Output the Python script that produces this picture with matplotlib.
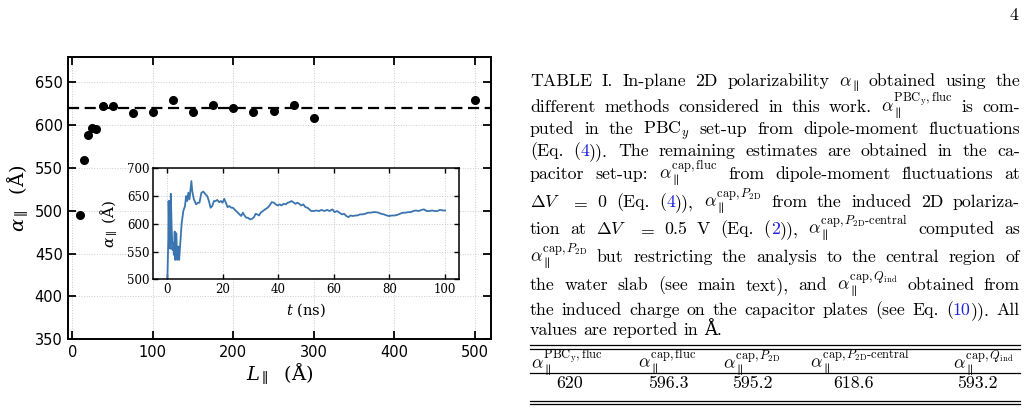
import numpy as np
import matplotlib.pyplot as plt
from matplotlib.lines import Line2D

# main panel: polarizability vs box size
L_par = [10, 15, 20, 25, 30, 37.5, 50, 75, 100, 125, 150, 175, 200, 225, 250, 275, 300, 500]
alpha_L = [495, 559, 588, 597, 596, 622, 622, 614, 616, 629, 616, 624, 620, 615, 617, 624, 608, 629]
alpha_ref = 620

# inset: running estimate vs simulation time
t_ns = [0.1, 0.5, 0.6, 0.8, 1.0, 1.2, 1.4, 1.7, 2.0, 2.3, 2.5, 2.8, 3.0, 3.4, 3.7, 4.1, 4.4,
        4.9, 5.3, 5.9, 6.5, 6.9, 7.3, 7.7, 8.1, 8.4, 8.8, 9.1, 9.7, 10.5, 11.1, 11.7, 12.4,
        13.1, 13.9, 14.5, 15.1, 15.7, 16.3, 16.9, 17.5, 18.1, 18.8, 19.4, 20.0, 20.6, 21.2,
        21.8, 22.4, 23.1, 23.7, 24.3, 24.9, 25.5, 26.1, 26.7, 27.3, 27.9, 28.5, 29.1, 29.9,
        30.6, 31.3, 31.9, 32.5, 33.1, 33.7, 34.5, 35.3, 36.2, 36.9, 37.7, 38.5, 39.1, 39.8,
        40.5, 41.2, 41.9, 42.7, 43.4, 44.1, 44.8, 45.4, 46.2, 46.9, 47.6, 48.3, 49.0, 49.8,
        50.5, 51.2, 51.9, 52.8, 53.7, 54.7, 55.6, 56.6, 57.6, 58.5, 59.5, 60.3, 61.2, 62.0,
        62.9, 63.7, 64.5, 65.3, 66.0, 66.8, 67.7, 68.5, 69.4, 70.3, 71.3, 72.2, 73.2, 74.2,
        75.1, 76.1, 77.0, 78.0, 79.0, 79.9, 80.9, 81.9, 82.8, 83.8, 84.7, 85.7, 86.7, 87.6,
        88.6, 89.5, 90.5, 91.5, 92.4, 93.4, 94.4, 95.3, 96.3, 97.2, 98.2, 99.2, 100.0]
alpha_t = [485, 571, 641, 595, 641, 555, 654, 595, 553, 565, 544, 586, 535, 583, 535, 559, 535,
           571, 601, 623, 632, 650, 641, 656, 644, 659, 677, 659, 644, 635, 638, 638, 656,
           658, 653, 650, 641, 629, 632, 641, 641, 643, 639, 641, 638, 645, 638,
           630, 632, 629, 629, 626, 623, 620, 617, 614, 620, 615, 611, 611, 608,
           609, 612, 618, 617, 615, 620, 623, 626, 629, 633, 639, 638, 635, 633,
           635, 633, 636, 635, 638, 639, 641, 639, 636, 638, 636, 633, 635, 630,
           629, 626, 623, 623, 624, 623, 625, 623, 625, 623, 626, 621, 623, 620,
           617, 618, 614, 612, 615, 614, 615, 615, 617, 617, 618, 620, 620, 621,
           621, 620, 618, 617, 615, 614, 615, 615, 616, 618, 620, 620, 621, 621,
           623, 624, 623, 625, 626, 623, 623, 624, 623, 623, 625, 624, 624]

# table
col_heads = [r'$\alpha_\parallel^{\mathrm{PBC_y,fluc}}$', r'$\alpha_\parallel^{\mathrm{cap,fluc}}$',
             r'$\alpha_\parallel^{\mathrm{cap},P_\mathrm{2D}}$',
             r'$\alpha_\parallel^{\mathrm{cap},P_\mathrm{2D}\text{-central}}$',
             r'$\alpha_\parallel^{\mathrm{cap},Q_\mathrm{ind}}$']
col_vals = ['620', '596.3', '595.2', '618.6', '593.2']

W, H = 1027, 418
fig = plt.figure(figsize=(W / 100, H / 100), dpi=100)

def fx(x):
    return x / W

def fy(y):
    return 1 - y / H

ax = fig.add_axes([fx(68.3), fy(339.3), fx(491 - 68.3), (339.3 - 56.7) / H])
ax.plot(L_par, alpha_L, 'o', color='black', ms=5.5, zorder=3)
ax.axhline(alpha_ref, color='black', lw=1.6, dashes=(5, 2.5))
ax.set_xlim(-5, 520)
ax.set_ylim(350, 680)
ax.set_xticks([0, 100, 200, 300, 400, 500])
ax.set_yticks([350, 400, 450, 500, 550, 600, 650])
ax.grid(True, ls=':', color='0.8', lw=0.7)
ax.tick_params(direction='in', top=True, right=True, length=5.5, width=1.3,
               labelsize=10.5, pad=4)
for lb in ax.get_xticklabels() + ax.get_yticklabels():
    lb.set_family('DejaVu Sans')
for s in ax.spines.values():
    s.set_linewidth(1.4)
ax.set_xlabel(r'$L_\parallel$  (Å)', fontsize=14, family='DejaVu Serif', math_fontfamily='dejavuserif')
ax.set_ylabel(r'$\alpha_\parallel$  (Å)', fontsize=14, family='DejaVu Serif', math_fontfamily='dejavuserif')
ax.xaxis.set_label_coords(0.5, -0.077)
ax.yaxis.set_label_coords(-0.09, 0.5)

ins = fig.add_axes([fx(153), fy(279.3), fx(459 - 153), 111 / H])
ins.plot(t_ns, alpha_t, color='#3a75b0', lw=1.3)
ins.set_xlim(-5, 105)
ins.set_ylim(500, 700)
ins.set_xticks([0, 20, 40, 60, 80, 100])
ins.set_yticks([500, 550, 600, 650, 700])
ins.grid(True, ls=':', color='0.8', lw=0.7)
ins.tick_params(direction='in', top=True, right=True, length=3.5, width=1.0,
                labelsize=8.5, pad=2.5)
for lb in ins.get_xticklabels() + ins.get_yticklabels():
    lb.set_family('DejaVu Serif')
for s in ins.spines.values():
    s.set_linewidth(1.1)
ins.set_xlabel(r'$t$ (ns)', fontsize=10.5, family='DejaVu Serif', math_fontfamily='dejavuserif')
ins.set_ylabel(r'$\alpha_\parallel$ (Å)', fontsize=11, family='DejaVu Serif', math_fontfamily='dejavuserif')
ins.xaxis.set_label_coords(0.5, -0.2)
ins.yaxis.set_label_coords(-0.108, 0.5)

# caption text on the right, justified by hand
cap_kw = dict(fontsize=12.8, family=['cmr10', 'DejaVu Serif'], math_fontfamily='cm', va='baseline')
blue = '#1f1fe0'
a = r'$\alpha_\parallel$'
lines = [
    ['TABLE', 'I.', 'In-plane', '2D', 'polarizability', a, 'obtained', 'using', 'the'],
    ['different', 'methods', 'considered', 'in', 'this', 'work.', r'$\alpha_\parallel^{\mathrm{PBC_y,fluc}}$', 'is', 'com-'],
    ['puted', 'in', 'the', r'PBC$_y$', 'set-up', 'from', 'dipole-moment', 'fluctuations'],
    ['(Eq.', '(#4#)).', 'The', 'remaining', 'estimates', 'are', 'obtained', 'in', 'the', 'ca-'],
    ['pacitor', 'set-up:', r'$\alpha_\parallel^{\mathrm{cap,fluc}}$', 'from', 'dipole-moment', 'fluctuations', 'at'],
    [r'$\Delta V$', r'$=$', '0', '(Eq.', '(#4#)),', r'$\alpha_\parallel^{\mathrm{cap},P_\mathrm{2D}}$', 'from', 'the', 'induced', '2D', 'polariza-'],
    ['tion', 'at', r'$\Delta V$', r'$=$', '0.5', 'V', '(Eq.', '(#2#)),', r'$\alpha_\parallel^{\mathrm{cap},P_\mathrm{2D}\text{-central}}$', 'computed', 'as'],
    [r'$\alpha_\parallel^{\mathrm{cap},P_\mathrm{2D}}$', 'but', 'restricting', 'the', 'analysis', 'to', 'the', 'central', 'region', 'of'],
    ['the', 'water', 'slab', '(see', 'main', 'text),', 'and', r'$\alpha_\parallel^{\mathrm{cap},Q_\mathrm{ind}}$', 'obtained', 'from'],
    ['the', 'induced', 'charge', 'on', 'the', 'capacitor', 'plates', '(see', 'Eq.', '(#10#)).', 'All'],
    ['values', 'are', 'reported', 'in', 'Å.'],
]
baselines = [86, 111.7, 134, 155.7, 179, 206.7, 234, 261.7, 290, 315, 335]

r = fig.canvas.get_renderer()

def put_line(words, y, x0=530, x1=1020, justify=True):
    items = []
    for w in words:
        objs = []
        for i, p in enumerate(w.split('#')):
            if not p:
                continue
            t = fig.text(0, 0, p, color=blue if i % 2 else 'black', **cap_kw)
            objs.append((t, t.get_window_extent(r).width))
        items.append(objs)
    total = sum(wd for objs in items for _, wd in objs)
    gap = (x1 - x0 - total) / (len(items) - 1) if justify else 5.5
    x = x0
    for objs in items:
        for t, wd in objs:
            t.set_position((fx(x), fy(y)))
            x += wd
        x += gap

for i, (ws, yb) in enumerate(zip(lines, baselines)):
    put_line(ws, yb, justify=i < len(lines) - 1)

# table rules
for yr in [345, 348.5, 373, 400.5, 404]:
    fig.add_artist(Line2D([fx(530), fx(1020)], [fy(yr), fy(yr)], color='black', lw=0.9))
head_x = [567, 667, 752, 860, 983]
val_x = [570, 668, 752, 853, 977]
for hx, ht in zip(head_x, col_heads):
    fig.text(fx(hx), fy(368.5), ht, ha='center', **cap_kw)
for vx, vt in zip(val_x, col_vals):
    fig.text(fx(vx), fy(388), vt, ha='center', **cap_kw)

fig.text(fx(1014), fy(20), '4', ha='center', **cap_kw)

fig.savefig('out.png', dpi=100)
